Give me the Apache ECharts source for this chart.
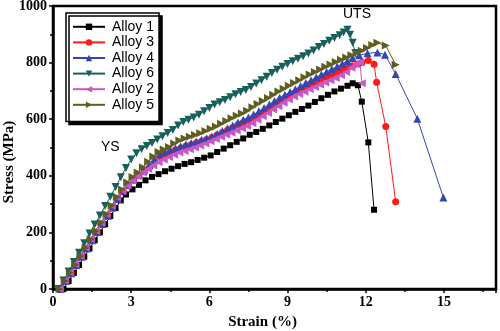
<!DOCTYPE html>
<html>
<head>
<meta charset="utf-8">
<script src="https://cdn.jsdelivr.net/npm/echarts@6/dist/echarts.min.js"></script>
<style>
  html, body { margin: 0; padding: 0; background: #fff; }
  #chart { width: 500px; height: 331px; }
</style>
</head>
<body>
<div id="chart"></div>
<script>
// Engineering stress–strain curves, [strain %, stress MPa]
const alloy1 = [[0.4,0],[0.6,28],[0.8,57],[1.0,85],[1.2,114],[1.4,143],[1.6,172],[1.8,200],[2.0,229],[2.2,258],[2.4,286],[2.6,313],[2.8,334],[3.05,352],[3.3,368],[3.55,384],[3.8,396],[4.05,406],[4.3,416],[4.55,425],[4.8,434],[5.05,442],[5.3,448],[5.55,456],[5.8,464],[6.05,472],[6.3,484],[6.55,496],[6.8,508],[7.05,520],[7.3,532],[7.55,545],[7.8,555],[8.05,566],[8.3,578],[8.55,590],[8.8,602],[9.05,614],[9.3,626],[9.55,636],[9.8,648],[10.05,661],[10.3,674],[10.55,686],[10.8,698],[11.05,708],[11.3,718],[11.5,727],[11.7,720],[11.85,662],[12.1,518],[12.32,280]];
const alloy3 = [[0.3,0],[0.5,28],[0.7,57],[0.9,86],[1.1,115],[1.3,144],[1.5,173],[1.7,202],[1.9,231],[2.1,260],[2.3,290],[2.5,319],[2.7,344],[2.9,365],[3.1,384],[3.3,400],[3.5,414],[3.7,430],[3.9,450],[4.1,468],[4.3,477],[4.5,484],[4.7,491],[4.9,498],[5.1,505],[5.3,510],[5.5,516],[5.7,522],[5.9,528],[6.1,535],[6.3,544],[6.5,553],[6.7,562],[6.9,571],[7.1,580],[7.3,588],[7.5,596],[7.7,606],[7.9,616],[8.1,627],[8.3,640],[8.5,652],[8.7,664],[8.9,674],[9.1,684],[9.3,694],[9.5,703],[9.7,712],[9.9,722],[10.1,731],[10.3,740],[10.5,749],[10.7,757],[10.9,765],[11.1,773],[11.3,781],[11.5,789],[11.7,795],[11.86,800],[12.1,807],[12.32,794],[12.42,731],[12.77,574],[13.15,308]];
const alloy4 = [[0.3,0],[0.5,28],[0.7,56],[0.9,85],[1.1,114],[1.3,143],[1.5,172],[1.7,201],[1.9,230],[2.1,259],[2.3,288],[2.5,318],[2.7,345],[2.9,368],[3.1,388],[3.3,405],[3.5,420],[3.7,438],[3.9,458],[4.1,476],[4.3,484],[4.5,490],[4.7,497],[4.9,504],[5.1,511],[5.3,516],[5.5,521],[5.7,527],[5.9,533],[6.1,539],[6.3,548],[6.5,558],[6.7,568],[6.9,578],[7.1,588],[7.3,598],[7.5,606],[7.7,617],[7.9,628],[8.1,640],[8.3,652],[8.5,664],[8.7,676],[8.9,686],[9.1,696],[9.3,706],[9.5,717],[9.7,728],[9.9,738],[10.1,748],[10.3,758],[10.5,768],[10.7,777],[10.9,786],[11.1,796],[11.3,806],[11.5,816],[11.75,826],[12.07,833],[12.45,836],[12.74,828],[13.15,760],[13.98,602],[14.98,323]];
const alloy6 = [[0.2,0],[0.4,30],[0.6,62],[0.8,95],[1.0,128],[1.2,162],[1.4,196],[1.6,228],[1.8,260],[2.0,293],[2.2,326],[2.4,360],[2.6,395],[2.8,428],[3.0,458],[3.2,480],[3.4,494],[3.6,505],[3.8,516],[4.0,528],[4.2,540],[4.4,551],[4.6,562],[4.8,578],[5.0,590],[5.2,598],[5.4,606],[5.6,616],[5.8,628],[6.0,640],[6.2,652],[6.4,660],[6.6,668],[6.8,678],[7.0,688],[7.2,696],[7.4,703],[7.6,714],[7.8,726],[8.0,738],[8.2,750],[8.4,763],[8.6,775],[8.8,785],[9.0,795],[9.2,805],[9.4,814],[9.6,822],[9.8,832],[10.0,843],[10.2,855],[10.4,866],[10.6,877],[10.8,887],[11.0,897],[11.15,906],[11.3,916],[11.4,898],[11.5,870],[11.6,834]];
const alloy2 = [[0.25,0],[0.45,29],[0.65,58],[0.85,88],[1.05,117],[1.25,147],[1.45,176],[1.65,206],[1.85,235],[2.05,265],[2.25,294],[2.45,324],[2.65,348],[2.85,366],[3.05,383],[3.25,398],[3.45,412],[3.65,424],[3.85,436],[4.05,448],[4.25,458],[4.45,466],[4.65,474],[4.85,482],[5.05,488],[5.25,494],[5.45,500],[5.65,507],[5.85,514],[6.05,522],[6.25,530],[6.45,538],[6.65,545],[6.85,552],[7.05,560],[7.25,568],[7.45,576],[7.65,586],[7.85,598],[8.05,610],[8.25,622],[8.45,634],[8.65,646],[8.85,658],[9.05,670],[9.25,680],[9.45,689],[9.65,697],[9.85,706],[10.05,714],[10.25,722],[10.45,730],[10.65,738],[10.85,746],[11.05,755],[11.25,767],[11.45,782],[11.62,795],[11.78,800],[11.85,727]];
const alloy5 = [[0.25,0],[0.45,28],[0.65,57],[0.85,86],[1.05,116],[1.25,146],[1.45,176],[1.65,205],[1.85,235],[2.05,265],[2.25,295],[2.45,325],[2.65,352],[2.85,376],[3.05,396],[3.25,412],[3.45,430],[3.65,450],[3.85,468],[4.05,484],[4.25,493],[4.45,502],[4.65,514],[4.85,525],[5.05,532],[5.25,538],[5.45,544],[5.65,550],[5.85,558],[6.05,566],[6.25,574],[6.45,584],[6.65,594],[6.85,603],[7.05,612],[7.25,620],[7.45,630],[7.65,642],[7.85,654],[8.05,664],[8.25,675],[8.45,686],[8.65,698],[8.85,708],[9.05,718],[9.25,728],[9.45,738],[9.65,748],[9.85,758],[10.05,767],[10.25,776],[10.45,785],[10.65,793],[10.85,802],[11.05,810],[11.25,818],[11.45,826],[11.65,834],[11.85,842],[12.05,852],[12.25,862],[12.45,870],[12.77,860],[13.15,792]];

const seriesNames = ['Alloy 1', 'Alloy 3', 'Alloy 4', 'Alloy 6', 'Alloy 2', 'Alloy 5'];
const xTicks = { min: 0, max: 17, interval: 3 };
const yTicks = { min: 0, max: 1000, interval: 200 };

const curves = [
  { name: 'Alloy 1', data: alloy1, color: '#000000', symbol: 'rect', size: 6, rotate: 0 },
  { name: 'Alloy 3', data: alloy3, color: '#ff1a1a', symbol: 'circle', size: 7, rotate: 0 },
  { name: 'Alloy 4', data: alloy4, color: '#3546b4', symbol: 'triangle', size: 8, rotate: 0 },
  { name: 'Alloy 6', data: alloy6, color: '#17605e', symbol: 'triangle', size: 8, rotate: 180 },
  { name: 'Alloy 2', data: alloy2, color: '#c957c9', symbol: 'triangle', size: 8, rotate: 90 },
  { name: 'Alloy 5', data: alloy5, color: '#5e5e1e', symbol: 'triangle', size: 8, rotate: -90 }
];

const serifLabel = { fontFamily: 'Liberation Serif', fontWeight: 'bold', fontSize: 14, color: '#000' };

const chart = echarts.init(document.getElementById('chart'), null, { renderer: 'canvas' });
chart.setOption({
  animation: false,
  backgroundColor: '#fff',
  grid: {
    left: 53, right: 4, top: 6, bottom: 42,
    containLabel: false, outerBoundsMode: 'none',
    show: true, borderColor: '#000', borderWidth: 2.5, backgroundColor: 'transparent'
  },
  legend: {
    data: seriesNames,
    orient: 'vertical',
    left: 66, top: 13,
    itemWidth: 32, itemHeight: 8, itemGap: 0,
    padding: [6, 5, 9, 6],
    backgroundColor: '#fff',
    borderColor: '#000', borderWidth: 1.5,
    shadowColor: '#000', shadowBlur: 0, shadowOffsetX: 3, shadowOffsetY: 3,
    textStyle: { fontFamily: 'Liberation Sans', fontSize: 14, lineHeight: 15.6, color: '#000', padding: [0, 0, 0, 2] }
  },
  xAxis: {
    type: 'value',
    min: xTicks.min, max: xTicks.max, interval: xTicks.interval,
    name: 'Strain (%)',
    nameLocation: 'middle', nameGap: 26,
    nameTextStyle: { fontFamily: 'Liberation Serif', fontWeight: 'bold', fontSize: 15, color: '#000', padding: [0, 24, 0, 0] },
    axisLine: { show: true, onZero: false, lineStyle: { color: '#000', width: 2.5 } },
    axisTick: { show: true, inside: false, length: 4, lineStyle: { color: '#000', width: 1.5 } },
    minorTick: { show: true, splitNumber: 2, length: 3, lineStyle: { color: '#000', width: 1.5 } },
    axisLabel: Object.assign({ margin: 6, showMaxLabel: false, formatter: v => String(v) }, serifLabel),
    splitLine: { show: false }
  },
  yAxis: {
    type: 'value',
    min: yTicks.min, max: yTicks.max, interval: yTicks.interval,
    axisLine: { show: true, onZero: false, lineStyle: { color: '#000', width: 2.5 } },
    axisTick: { show: true, inside: false, length: 4, lineStyle: { color: '#000', width: 1.5 } },
    minorTick: { show: true, splitNumber: 2, length: 3, lineStyle: { color: '#000', width: 1.5 } },
    axisLabel: Object.assign({ margin: 6, formatter: v => String(v) }, serifLabel),
    splitLine: { show: false }
  },
  graphic: [
    // y-axis title, rotated to read bottom-to-top
    { type: 'text', x: 9, y: 162, rotation: Math.PI / 2,
      style: { text: 'Stress (MPa)', fontFamily: 'Liberation Serif', fontWeight: 'bold', fontSize: 15, fill: '#000', align: 'center', verticalAlign: 'middle' } },
    { type: 'text', left: 101, top: 140, style: { text: 'YS', fontFamily: 'Liberation Sans', fontSize: 14, fill: '#000' } },
    { type: 'text', left: 343, top: 7, style: { text: 'UTS', fontFamily: 'Liberation Sans', fontSize: 14, fill: '#000' } }
  ],
  series: curves.map(c => ({
    name: c.name,
    type: 'line',
    data: c.data,
    symbol: c.symbol,
    symbolSize: c.size,
    symbolRotate: c.rotate,
    showAllSymbol: true,
    color: c.color,
    itemStyle: { color: c.color, borderWidth: 0 },
    lineStyle: { color: c.color, width: 1 },
    emphasis: { disabled: true }
  }))
});
</script>
</body>
</html>
